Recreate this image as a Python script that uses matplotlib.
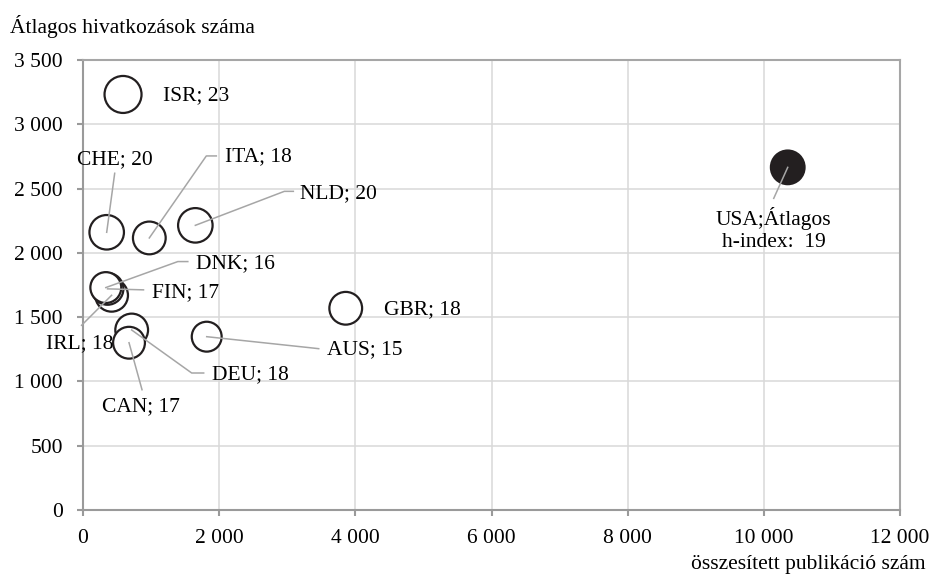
import matplotlib
matplotlib.use("Agg")
from matplotlib import pyplot as plt
from matplotlib.ticker import FuncFormatter
import numpy as np

# Országok: összesített publikáció szám, átlagos hivatkozások száma, átlagos h-index
countries = ["ISR", "CHE", "ITA", "NLD", "IRL", "FIN", "DNK", "DEU", "CAN", "AUS", "GBR", "USA"]
publications = [588, 348, 974, 1650, 420, 360, 335, 715, 676, 1817, 3859, 10351]
citations = [3232, 2160, 2116, 2214, 1670, 1720, 1730, 1400, 1301, 1348, 1569, 2665]
h_index = [23, 20, 18, 20, 18, 17, 16, 18, 17, 15, 18, 19]

# címke elhelyezés: szöveg eltolás (képpont), igazítás, vezető vonal töréspontjai (képpont)
labels = {
    "ISR": ((40, 1.5), "left", []),
    "CHE": ((8, -73), "center", [(8, -59)]),
    "ITA": ((76, -81), "left", [(57, -82), (67, -82)]),
    "NLD": ((105, -32), "left", [(89, -34), (98, -34)]),
    "DNK": ((90, -24), "left", [(72, -26), (82, -26)]),
    "FIN": ((44, 4), "left", [(36, 1)]),
    "IRL": ((2, 48), "right", [(-30, 30)]),
    "DEU": ((80, 45), "left", [(60, 43), (72, 43)]),
    "CAN": ((12, 64), "center", [(13, 47)]),
    "AUS": ((120, 13), "left", [(103, 11), (112, 12)]),
    "GBR": ((38, 1), "left", []),
    "USA": ((-14, 62), "center", [(-14, 31)]),
}

plt.rcParams["font.family"] = ["Liberation Serif", "DejaVu Serif"]
plt.rcParams["font.size"] = 15.5

fig = plt.figure(figsize=(9.31, 5.77), dpi=100)
ax = fig.add_axes([83 / 931, 1 - 510 / 577, 817 / 931, 450 / 577])

ax.set_xlim(0, 12000)
ax.set_ylim(0, 3500)
ax.set_xticks(range(0, 12001, 2000))
ax.set_yticks(range(0, 3501, 500))
fmt = FuncFormatter(lambda v, p: "{:,}".format(int(v)).replace(",", " "))
ax.xaxis.set_major_formatter(fmt)
ax.yaxis.set_major_formatter(fmt)
ax.grid(True, color="#d9d9d9", linewidth=1.1, zorder=0)
ax.set_axisbelow(True)
for s in ax.spines.values():
    s.set_color("#a6a6a6")
    s.set_linewidth(1.5)
ax.spines["left"].set_color("#9a9a9a")
ax.spines["bottom"].set_color("#9a9a9a")
ax.tick_params(axis="both", color="#9a9a9a", width=1.5, length=4.5, labelsize=15.5)
ax.tick_params(axis="y", pad=10)
ax.tick_params(axis="x", pad=9)

# buborékok: átmérő ~ gyök(h-index)
diam_px = 37 * np.sqrt(np.array(h_index) / max(h_index))
sizes = (diam_px * 0.72) ** 2
faces = ["#231f20" if c == "USA" else "white" for c in countries]
ax.scatter(publications, citations, s=sizes, facecolors=faces, edgecolors="#231f20",
           linewidths=1.6, zorder=3)

fig.canvas.draw()
to_disp = ax.transData
to_data = ax.transData.inverted()

for c, x, y in zip(countries, publications, citations):
    (tx, ty), ha, path = labels[c]
    px, py = to_disp.transform((x, y))
    if path:
        pts = [(px, py)] + [(px + dx, py - dy) for dx, dy in path]
        pts = to_data.transform(pts)
        ax.plot(pts[:, 0], pts[:, 1], color="#a6a6a6", linewidth=1.1, zorder=4,
                clip_on=False)
    if c == "USA":
        txt = "USA;Átlagos\nh-index:  19"
    else:
        txt = "%s; %d" % (c, h_index[countries.index(c)])
    ax.annotate(txt, (x, y), xytext=(tx, -ty), textcoords="offset pixels",
                ha=ha, va="center", fontsize=15.5, linespacing=1.25,
                multialignment="center", zorder=5, annotation_clip=False)

fig.text(10 / 931, 1 - 27 / 577, "Átlagos hivatkozások száma", ha="left", va="center",
         fontsize=15.5)
fig.text(926 / 931, 1 - 565 / 577, "összesített publikáció szám", ha="right", va="center",
         fontsize=15.5)

plt.savefig("out.png", dpi=100)
